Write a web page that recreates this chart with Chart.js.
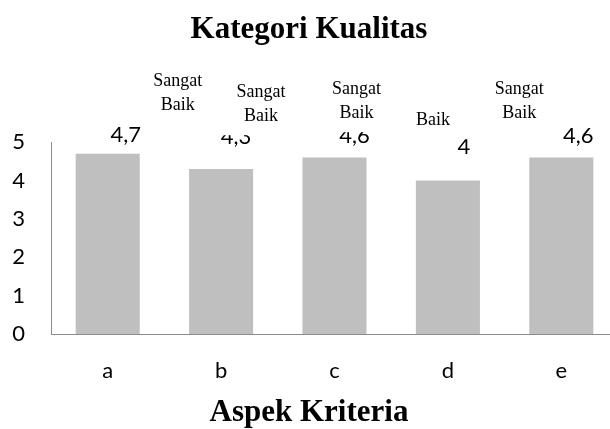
<!DOCTYPE html>
<html>
<head>
<meta charset="utf-8">
<script src="https://cdn.jsdelivr.net/npm/chart.js@4"></script>
<style>
  html, body { margin: 0; padding: 0; background: #fff; overflow: hidden; }
  #wadah { width: 618px; height: 429px; }
</style>
</head>
<body>
<div id="wadah"><canvas id="grafik"></canvas></div>
<script>
const kriteria = ['a', 'b', 'c', 'd', 'e'];
const nilai = [4.7, 4.3, 4.6, 4.0, 4.6];
const kategori = [['Sangat', 'Baik'], ['Sangat', 'Baik'], ['Sangat', 'Baik'], ['Baik'], ['Sangat', 'Baik']];
const sumbuYMin = 0;
const sumbuYMax = 5;

const fontAngka = "Lato, 'Open Sans', sans-serif";
const fontSerif = "'Times New Roman', 'Liberation Serif', serif";

// posisi label yang digeser manual (seperti di Excel)
const geserNilai = [[18, -12], [15, -25], [20, -15], [16, -27], [17, -15]];
const geserKategori = [[70, -32], [40, -21], [22, -24], [-15, -17], [-42, -24]];

const labelPlugin = {
  id: 'labelKategori',
  afterDatasetsDraw(chart) {
    const ctx = chart.ctx;
    const meta = chart.getDatasetMeta(0);
    const atas = chart.scales.y.getPixelForValue(sumbuYMax);
    ctx.save();

    // angka di atas batang
    ctx.font = '22px ' + fontAngka;
    ctx.fillStyle = '#000';
    ctx.textAlign = 'center';
    ctx.textBaseline = 'alphabetic';
    meta.data.forEach((bar, i) => {
      const teks = String(nilai[i]).replace('.', ',');
      ctx.fillText(teks, bar.x + geserNilai[i][0], bar.y + geserNilai[i][1]);
    });

    // kotak teks kategori (latar putih menutupi angka)
    ctx.font = '18px ' + fontSerif;
    const tinggiBaris = 24;
    meta.data.forEach((bar, i) => {
      const baris = kategori[i];
      const cx = bar.x + geserKategori[i][0];
      const yAkhir = atas + geserKategori[i][1];
      const lebar = Math.max(...baris.map(t => ctx.measureText(t).width));
      const yAwal = yAkhir - (baris.length - 1) * tinggiBaris;
      ctx.fillStyle = '#fff';
      ctx.fillRect(cx - lebar / 2 - 22, yAwal - 22, lebar + 44, yAkhir - yAwal + 36);
    });
    ctx.fillStyle = '#000';
    meta.data.forEach((bar, i) => {
      const baris = kategori[i];
      const cx = bar.x + geserKategori[i][0];
      const yAkhir = atas + geserKategori[i][1];
      baris.forEach((t, j) => {
        ctx.fillText(t, cx, yAkhir - (baris.length - 1 - j) * tinggiBaris);
      });
    });
    ctx.restore();
  }
};

const ctx = document.getElementById('grafik').getContext('2d');
const chart = new Chart(ctx, {
  type: 'bar',
  data: {
    labels: kriteria,
    datasets: [{
      data: nilai,
      backgroundColor: '#bfbfbf',
      categoryPercentage: 1,
      barPercentage: 0.565
    }]
  },
  options: {
    responsive: true,
    maintainAspectRatio: false,
    animation: false,
    devicePixelRatio: 1,
    layout: { padding: 0 },
    plugins: {
      legend: { display: false },
      tooltip: { enabled: false },
      title: {
        display: true,
        text: 'Kategori Kualitas',
        color: '#000',
        font: { family: fontSerif, size: 31, weight: 'bold', lineHeight: 1.2 },
        padding: { top: 11, bottom: 94 }
      },
      subtitle: {
        display: true,
        position: 'bottom',
        text: 'Aspek Kriteria',
        color: '#000',
        font: { family: fontSerif, size: 31, weight: 'bold', lineHeight: 1 },
        padding: { top: 14, bottom: 1 }
      }
    },
    scales: {
      x: {
        grid: { display: false, drawTicks: false },
        border: { display: true, color: '#8c8c8c', width: 1 },
        ticks: { color: '#000', padding: 24, font: { family: fontAngka, size: 22, lineHeight: 1.2 } },
        afterFit(scale) { scale.height = 49; }
      },
      y: {
        min: sumbuYMin,
        max: sumbuYMax,
        grid: { display: false, drawTicks: false },
        border: { display: true, color: '#8c8c8c', width: 1 },
        ticks: { stepSize: 1, color: '#000', padding: 26, font: { family: fontAngka, size: 22 } },
        afterFit(scale) { scale.width = 51; }
      }
    }
  },
  plugins: [labelPlugin]
});
</script>
</body>
</html>
